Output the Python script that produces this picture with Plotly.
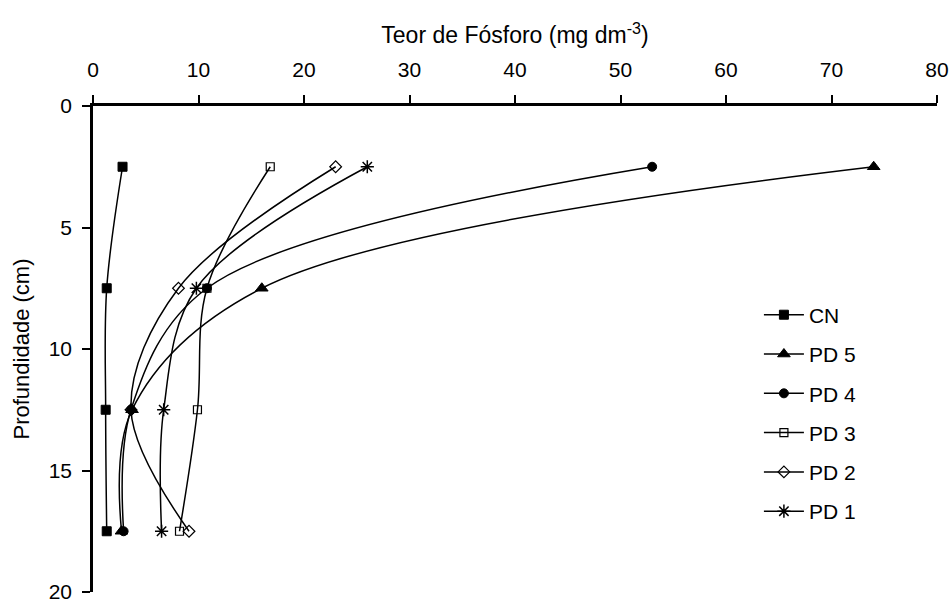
import plotly.graph_objects as go

# Depth of each sampling layer (cm)
depth = [2.5, 7.5, 12.5, 17.5]

# Phosphorus content per treatment (mg dm-3)
cn = [2.8, 1.3, 1.2, 1.3]
pd5 = [74.0, 16.0, 3.7, 2.7]
pd4 = [53.0, 10.8, 3.6, 2.9]
pd3 = [16.8, 10.8, 9.9, 8.2]
pd2 = [23.0, 8.1, 3.6, 9.1]
pd1 = [26.0, 9.8, 6.7, 6.5]

series = [
    ("CN", cn, "square", 9, 1),
    ("PD 5", pd5, "triangle-up", 11, 1),
    ("PD 4", pd4, "circle", 9, 1),
    ("PD 3", pd3, "square-open", 8, 1.2),
    ("PD 2", pd2, "diamond-open", 9, 1.2),
    ("PD 1", pd1, "asterisk-open", 11, 1.5),
]

fig = go.Figure()
for name, vals, sym, size, lw in series:
    fig.add_trace(go.Scatter(
        x=vals, y=depth, name=name, mode="lines+markers",
        legendgroup=name,
        line=dict(color="black", width=1.5, shape="spline", smoothing=1),
        marker=dict(symbol=sym, size=size, color="black",
                    line=dict(color="black", width=lw)),
    ))

family = "Liberation Sans, Arial, sans-serif"
font = dict(family=family, size=21, color="black")

fig.update_layout(
    width=951, height=603,
    margin=dict(l=93, r=14, t=106, b=11, autoexpand=False),
    paper_bgcolor="white", plot_bgcolor="white",
    font=font,
    showlegend=True,
    legend=dict(x=0.789, y=0.612, xanchor="left", yanchor="top",
                bgcolor="rgba(0,0,0,0)", font=font, tracegroupgap=9,
                itemwidth=40),
    xaxis=dict(
        side="top", range=[0, 80], dtick=10, tick0=0, automargin=False,
        showgrid=False, zeroline=False,
        showline=True, linecolor="black", linewidth=2.5,
        ticks="outside", ticklen=8, tickwidth=2, tickcolor="black",
        ticklabelstandoff=10,
        title=dict(text="Teor de Fósforo (mg dm<sup>-3</sup>)",
                   font=dict(family=family, size=23, color="black"), standoff=8),
        tickfont=font,
    ),
    yaxis=dict(
        range=[20, 0], dtick=5, tick0=0, automargin=False,
        showgrid=False, zeroline=False,
        showline=True, linecolor="black", linewidth=2.5,
        ticks="outside", ticklen=8, tickwidth=2, tickcolor="black",
        ticklabelstandoff=6, ticklabeloverflow="allow",
        title=dict(text="Profundidade (cm)",
                   font=dict(family=family, size=22, color="black"), standoff=13),
        tickfont=font,
    ),
)

fig.write_html("out.html")
